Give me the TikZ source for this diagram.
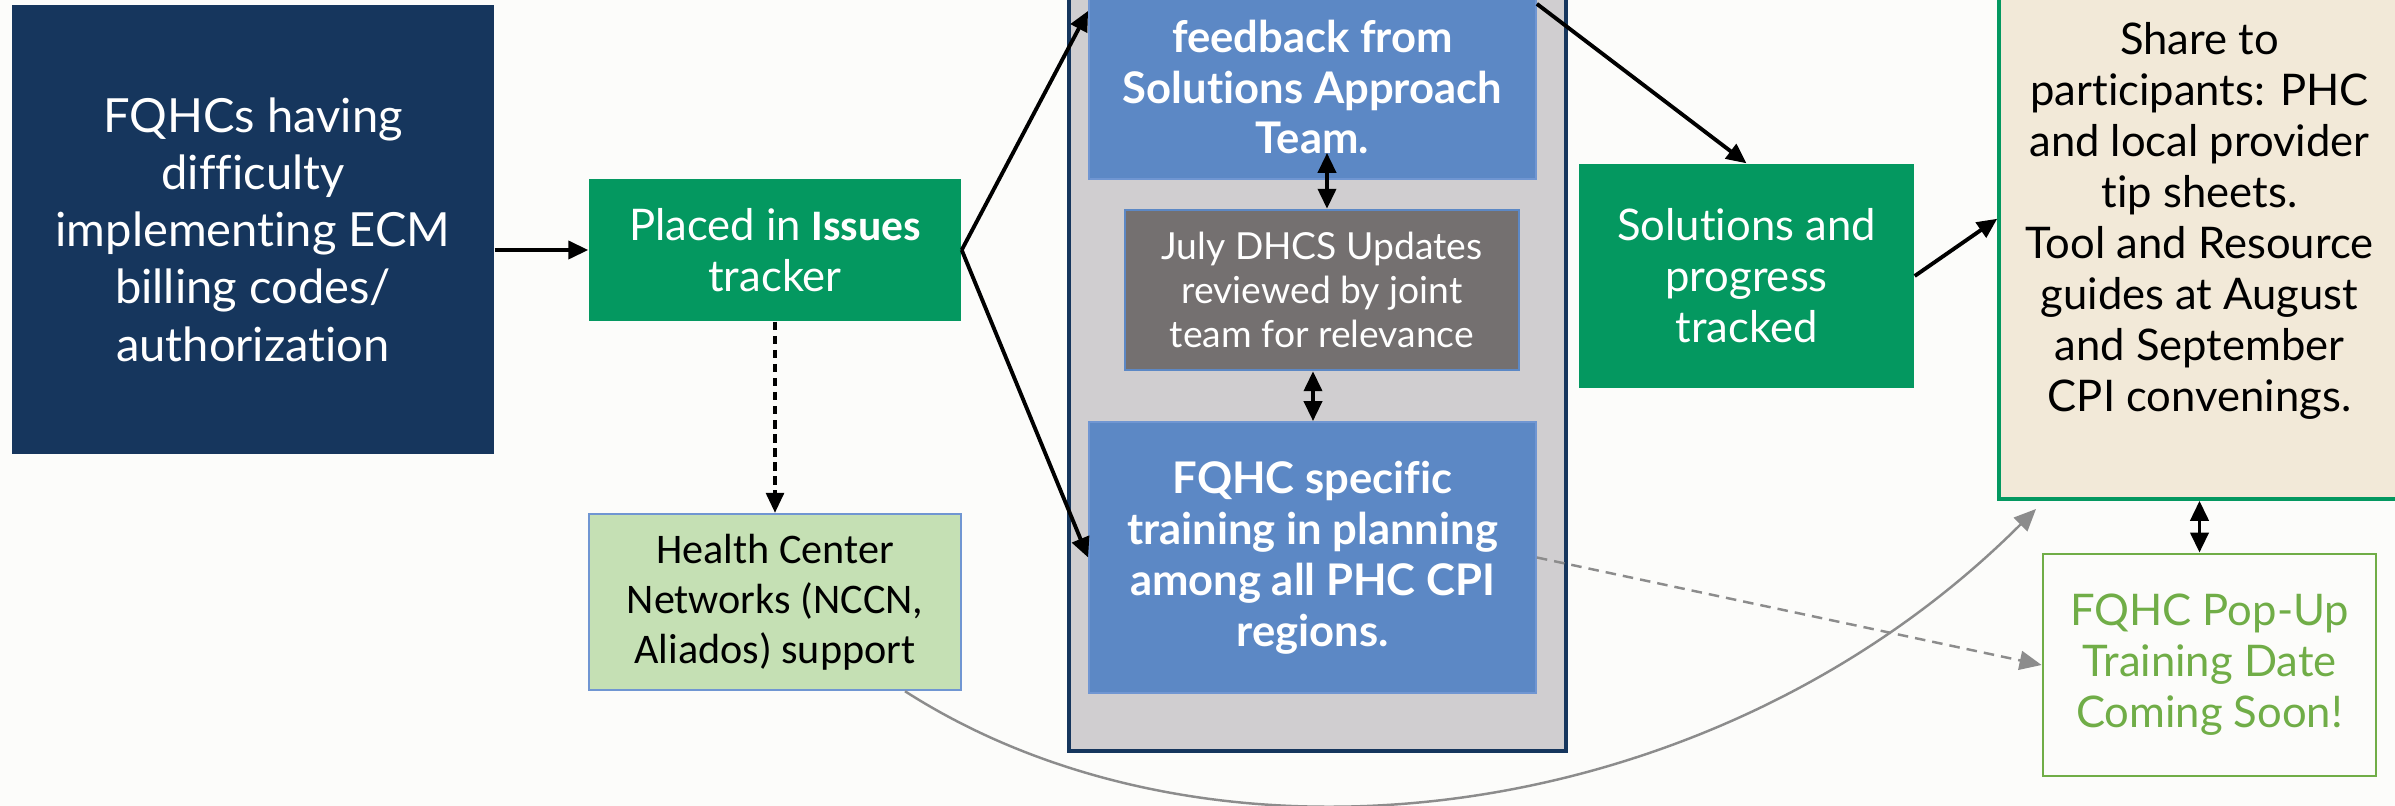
\documentclass[tikz,border=0pt]{standalone}
\usepackage{fontspec}
\setmainfont{Lato}[Ligatures=NoCommon]
\newfontfamily\calibri{Carlito}
\usepackage{xcolor}
\definecolor{marino}{RGB}{22,54,93}
\definecolor{verdeosc}{RGB}{4,152,96}
\definecolor{verdeclaro}{RGB}{197,224,180}
\definecolor{azulcaja}{RGB}{92,136,197}
\definecolor{bordeazul}{RGB}{112,150,210}
\definecolor{grispanel}{RGB}{208,206,208}
\definecolor{grisoscuro}{RGB}{116,112,112}
\definecolor{beige}{RGB}{242,233,216}
\definecolor{verdelima}{RGB}{112,173,71}
\definecolor{fondo}{RGB}{252,252,250}
\definecolor{flechagris}{RGB}{140,140,140}
\usetikzlibrary{positioning, arrows.meta}

\begin{document}
\begin{tikzpicture}[
    caja/.style={rectangle, align=center, inner sep=0pt, text=white, font=\fontsize{12.4}{14.5}\selectfont},
    negrita/.style={font=\bfseries\fontsize{12.4}{14.5}\selectfont},
    flecha/.style={line width=1.1pt, -{Triangle[length=0.2cm,width=0.18cm]}},
    doble/.style={line width=1.1pt, {Triangle[length=0.2cm,width=0.18cm]}-{Triangle[length=0.2cm,width=0.18cm]}},
    flechagr/.style={flechagris, line width=0.7pt, -{Triangle[length=0.22cm,width=0.19cm]}}
]
    % Marco y fondo
    \useasboundingbox (0,0) rectangle (23.95,-8.06);
    \fill[fondo] (0,0) rectangle (23.95,-8.06);
    \clip (0,0) rectangle (23.95,-8.06);

    % Cajas de la izquierda
    \node[caja, fill=marino, minimum width=4.82cm, minimum height=4.49cm,
          font=\fontsize{13.4}{16.3}\selectfont] (fqhc) at (2.53,-2.295)
          {FQHCs having\\difficulty\\implementing ECM\\billing codes/\\authorization};
    \node[caja, fill=verdeosc, minimum width=3.72cm, minimum height=1.42cm] (tracker) at (7.75,-2.50)
          {Placed in {\calibri\bfseries Issues}\\tracker};
    \node[caja, fill=verdeclaro, draw=bordeazul, line width=0.7pt, text=black,
          minimum width=3.72cm, minimum height=1.76cm,
          font={\calibri\fontsize{12}{14.2}\selectfont}] (networks) at (7.75,-6.02)
          {Health Center\\Networks (NCCN,\\Aliados) support};

    % Panel gris con las tres cajas
    \node[fill=grispanel, draw=marino, line width=0.9pt, minimum width=4.97cm,
          minimum height=8.01cm, inner sep=0pt] (panel) at (13.175,-3.505) {};
    \node[caja, negrita, fill=azulcaja, draw=bordeazul, line width=0.5pt,
          minimum width=4.47cm, minimum height=1.84cm] (feedback) at (13.125,-0.87)
          {feedback from\\Solutions Approach\\Team.};
    \node[caja, fill=grisoscuro, draw=azulcaja, line width=0.7pt,
          font=\fontsize{10.6}{12.5}\selectfont,
          minimum width=3.94cm, minimum height=1.60cm] (updates) at (13.22,-2.90)
          {July DHCS Updates\\reviewed by joint\\team for relevance};
    \node[caja, negrita, fill=azulcaja, draw=bordeazul, line width=0.5pt,
          minimum width=4.47cm, minimum height=2.71cm] (training) at (13.125,-5.575)
          {FQHC specific\\training in planning\\among all PHC CPI\\regions.};

    % Cajas de la derecha
    \node[caja, fill=verdeosc, minimum width=3.35cm, minimum height=2.24cm] (solutions) at (17.465,-2.76)
          {Solutions and\\progress\\tracked};
    \node[caja, fill=beige, draw=verdeosc, line width=1pt, text=black,
          minimum width=4.01cm, minimum height=5.56cm] (share) at (21.995,-2.21)
          {Share to\\participants: PHC\\and local provider\\tip sheets.\\Tool and Resource\\guides at August\\and September\\CPI convenings.};
    \node[caja, fill=fondo, draw=verdelima, line width=0.8pt, text=verdelima,
          minimum width=3.33cm, minimum height=2.22cm] (popup) at (22.095,-6.65)
          {FQHC Pop-Up\\Training Date\\Coming Soon!};

    % Flechas
    \draw[flecha] (fqhc.east |- tracker.west) -- (tracker.west);
    \draw[flecha] (tracker.east) -- ([yshift=1.69cm]feedback.south west);
    \draw[flecha] (tracker.east) -- (training.west);
    \draw[flecha, line width=0.9pt, dash pattern={on 2.4pt off 1.6pt}] (tracker.south) -- (networks.north);
    \draw[doble] ([xshift=0.05cm]updates.north) -- ([xshift=0.05cm,yshift=0.27cm]updates.north |- feedback.south);
    \draw[doble] ([xshift=-0.09cm]updates.south) -- ([xshift=-0.09cm]updates.south |- training.north);
    \draw[flecha] ([yshift=1.76cm]feedback.south east) -- (solutions.north);
    \draw[flecha] (solutions.east) -- ([yshift=2.82cm]share.south west);
    \draw[doble] (share.south) -- (share.south |- popup.north);
    \draw[flechagr, dash pattern={on 3pt off 2pt}] (training.east) -- (popup.west);
    % Curva gris hacia abajo
    \coordinate (curvafin) at (20.36,-5.09);
    \draw[flechagr] ([xshift=1.30cm]networks.south) .. controls +(3.12,-2.0) and +(-3.2,-3.2) .. (curvafin);
\end{tikzpicture}
\end{document}
